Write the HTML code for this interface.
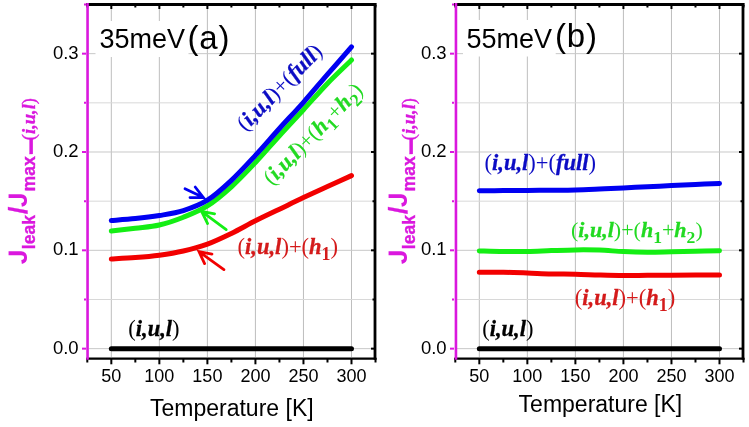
<!DOCTYPE html>
<html><head><meta charset="utf-8"><style>html,body{margin:0;padding:0;background:#fff;overflow:hidden}svg{display:block;filter:blur(0.35px)}</style></head>
<body><svg width="749" height="427" viewBox="0 0 749 427"><rect width="749" height="427" fill="#fff"/>
<line x1="111.32" y1="6" x2="111.32" y2="357" stroke="#BEBEBE" stroke-width="1"/>
<line x1="159.35" y1="6" x2="159.35" y2="357" stroke="#BEBEBE" stroke-width="1"/>
<line x1="207.39" y1="6" x2="207.39" y2="357" stroke="#BEBEBE" stroke-width="1"/>
<line x1="255.42" y1="6" x2="255.42" y2="357" stroke="#BEBEBE" stroke-width="1"/>
<line x1="303.46" y1="6" x2="303.46" y2="357" stroke="#BEBEBE" stroke-width="1"/>
<line x1="351.49" y1="6" x2="351.49" y2="357" stroke="#BEBEBE" stroke-width="1"/>
<line x1="89" y1="348.65" x2="374" y2="348.65" stroke="#C8C8C8" stroke-width="1"/>
<line x1="89" y1="299.49" x2="374" y2="299.49" stroke="#D8D8D8" stroke-width="1"/>
<line x1="89" y1="250.32" x2="374" y2="250.32" stroke="#C8C8C8" stroke-width="1"/>
<line x1="89" y1="201.16" x2="374" y2="201.16" stroke="#D8D8D8" stroke-width="1"/>
<line x1="89" y1="151.99" x2="374" y2="151.99" stroke="#C8C8C8" stroke-width="1"/>
<line x1="89" y1="102.83" x2="374" y2="102.83" stroke="#D8D8D8" stroke-width="1"/>
<line x1="89" y1="53.66" x2="374" y2="53.66" stroke="#C8C8C8" stroke-width="1"/>
<path d="M111.32,348.65 C115.32,348.65 127.33,348.65 135.33,348.65 C143.34,348.65 151.35,348.65 159.35,348.65 C167.36,348.65 175.36,348.65 183.37,348.65 C191.38,348.65 199.38,348.65 207.39,348.65 C215.39,348.65 223.40,348.65 231.40,348.65 C239.41,348.65 247.42,348.65 255.42,348.65 C263.43,348.65 271.43,348.65 279.44,348.65 C287.45,348.65 295.45,348.65 303.46,348.65 C311.46,348.65 319.47,348.65 327.48,348.65 C335.48,348.65 347.49,348.65 351.49,348.65" fill="none" stroke="#000" stroke-width="5" stroke-linecap="round" stroke-linejoin="round"/>
<path d="M111.32,259.00 C115.32,258.77 127.33,258.23 135.33,257.60 C143.34,256.97 151.35,256.30 159.35,255.20 C167.36,254.10 175.36,252.85 183.37,251.00 C191.38,249.15 199.38,247.03 207.39,244.10 C215.39,241.17 223.40,237.28 231.40,233.40 C239.41,229.52 247.42,224.83 255.42,220.80 C263.43,216.77 271.43,213.07 279.44,209.20 C287.45,205.33 295.45,201.38 303.46,197.60 C311.46,193.82 319.47,190.17 327.48,186.50 C335.48,182.83 347.49,177.42 351.49,175.60" fill="none" stroke="#F20000" stroke-width="5" stroke-linecap="round" stroke-linejoin="round"/>
<path d="M111.32,231.00 C115.32,230.53 127.33,229.20 135.33,228.20 C143.34,227.20 151.35,226.83 159.35,225.00 C167.36,223.17 175.36,220.38 183.37,217.20 C191.38,214.02 199.38,210.97 207.39,205.90 C215.39,200.83 223.40,194.03 231.40,186.80 C239.41,179.57 247.42,171.02 255.42,162.50 C263.43,153.98 271.43,144.50 279.44,135.70 C287.45,126.90 295.45,118.42 303.46,109.70 C311.46,100.98 319.47,91.68 327.48,83.40 C335.48,75.12 347.49,63.90 351.49,60.00" fill="none" stroke="#14EE14" stroke-width="5" stroke-linecap="round" stroke-linejoin="round"/>
<path d="M111.32,220.50 C115.32,220.18 127.33,219.43 135.33,218.60 C143.34,217.77 151.35,216.83 159.35,215.50 C167.36,214.17 175.36,213.15 183.37,210.60 C191.38,208.05 199.38,205.25 207.39,200.20 C215.39,195.15 223.40,187.77 231.40,180.30 C239.41,172.83 247.42,164.03 255.42,155.40 C263.43,146.77 271.43,137.35 279.44,128.50 C287.45,119.65 295.45,111.32 303.46,102.30 C311.46,93.28 319.47,83.63 327.48,74.40 C335.48,65.17 347.49,51.48 351.49,46.90" fill="none" stroke="#0000F2" stroke-width="5" stroke-linecap="round" stroke-linejoin="round"/>
<path d="M185,188.8 L203.4,197.6 M195.2,187 L203.4,197.6 L190,197.6" fill="none" stroke="#0000F2" stroke-width="2.8" stroke-linecap="round" stroke-linejoin="miter"/>
<path d="M226.2,229.6 L201.6,211.3 M214.6,213.8 L201.6,211.3 L207.6,223.6" fill="none" stroke="#14EE14" stroke-width="2.8" stroke-linecap="round" stroke-linejoin="miter"/>
<path d="M223.9,269.6 L199,251.7 M212,254.1 L199,251.7 L204.6,263.6" fill="none" stroke="#F20000" stroke-width="2.8" stroke-linecap="round" stroke-linejoin="miter"/>
<line x1="86" y1="4.5" x2="376.4" y2="4.5" stroke="#000" stroke-width="2.8"/>
<line x1="375.0" y1="3.1" x2="375.0" y2="359.8" stroke="#000" stroke-width="2.8"/>
<line x1="86.3" y1="358.6" x2="376.4" y2="358.6" stroke="#000" stroke-width="2.4"/>
<line x1="87.30" y1="358" x2="87.30" y2="362.5" stroke="#000" stroke-width="2"/>
<line x1="87.30" y1="5" x2="87.30" y2="7.5" stroke="#000" stroke-width="2"/>
<line x1="111.32" y1="358" x2="111.32" y2="364.3" stroke="#000" stroke-width="2"/>
<line x1="111.32" y1="5" x2="111.32" y2="9.0" stroke="#000" stroke-width="2"/>
<line x1="135.33" y1="358" x2="135.33" y2="362.5" stroke="#000" stroke-width="2"/>
<line x1="135.33" y1="5" x2="135.33" y2="7.5" stroke="#000" stroke-width="2"/>
<line x1="159.35" y1="358" x2="159.35" y2="364.3" stroke="#000" stroke-width="2"/>
<line x1="159.35" y1="5" x2="159.35" y2="9.0" stroke="#000" stroke-width="2"/>
<line x1="183.37" y1="358" x2="183.37" y2="362.5" stroke="#000" stroke-width="2"/>
<line x1="183.37" y1="5" x2="183.37" y2="7.5" stroke="#000" stroke-width="2"/>
<line x1="207.39" y1="358" x2="207.39" y2="364.3" stroke="#000" stroke-width="2"/>
<line x1="207.39" y1="5" x2="207.39" y2="9.0" stroke="#000" stroke-width="2"/>
<line x1="231.40" y1="358" x2="231.40" y2="362.5" stroke="#000" stroke-width="2"/>
<line x1="231.40" y1="5" x2="231.40" y2="7.5" stroke="#000" stroke-width="2"/>
<line x1="255.42" y1="358" x2="255.42" y2="364.3" stroke="#000" stroke-width="2"/>
<line x1="255.42" y1="5" x2="255.42" y2="9.0" stroke="#000" stroke-width="2"/>
<line x1="279.44" y1="358" x2="279.44" y2="362.5" stroke="#000" stroke-width="2"/>
<line x1="279.44" y1="5" x2="279.44" y2="7.5" stroke="#000" stroke-width="2"/>
<line x1="303.46" y1="358" x2="303.46" y2="364.3" stroke="#000" stroke-width="2"/>
<line x1="303.46" y1="5" x2="303.46" y2="9.0" stroke="#000" stroke-width="2"/>
<line x1="327.48" y1="358" x2="327.48" y2="362.5" stroke="#000" stroke-width="2"/>
<line x1="327.48" y1="5" x2="327.48" y2="7.5" stroke="#000" stroke-width="2"/>
<line x1="351.49" y1="358" x2="351.49" y2="364.3" stroke="#000" stroke-width="2"/>
<line x1="351.49" y1="5" x2="351.49" y2="9.0" stroke="#000" stroke-width="2"/>
<line x1="375.51" y1="358" x2="375.51" y2="362.5" stroke="#000" stroke-width="2"/>
<line x1="375.51" y1="5" x2="375.51" y2="7.5" stroke="#000" stroke-width="2"/>
<line x1="374" y1="348.65" x2="371.0" y2="348.65" stroke="#000" stroke-width="2"/>
<line x1="374" y1="299.49" x2="372.5" y2="299.49" stroke="#000" stroke-width="2"/>
<line x1="374" y1="250.32" x2="371.0" y2="250.32" stroke="#000" stroke-width="2"/>
<line x1="374" y1="201.16" x2="372.5" y2="201.16" stroke="#000" stroke-width="2"/>
<line x1="374" y1="151.99" x2="371.0" y2="151.99" stroke="#000" stroke-width="2"/>
<line x1="374" y1="102.83" x2="372.5" y2="102.83" stroke="#000" stroke-width="2"/>
<line x1="374" y1="53.66" x2="371.0" y2="53.66" stroke="#000" stroke-width="2"/>
<line x1="374" y1="4.50" x2="372.5" y2="4.50" stroke="#000" stroke-width="2"/>
<line x1="87.55" y1="3.1" x2="87.55" y2="359.8" stroke="#DA18DE" stroke-width="2.6"/>
<line x1="86" y1="348.65" x2="82.0" y2="348.65" stroke="#DA18DE" stroke-width="2"/>
<line x1="86" y1="299.49" x2="84.0" y2="299.49" stroke="#DA18DE" stroke-width="2"/>
<line x1="86" y1="250.32" x2="82.0" y2="250.32" stroke="#DA18DE" stroke-width="2"/>
<line x1="86" y1="201.16" x2="84.0" y2="201.16" stroke="#DA18DE" stroke-width="2"/>
<line x1="86" y1="151.99" x2="82.0" y2="151.99" stroke="#DA18DE" stroke-width="2"/>
<line x1="86" y1="102.83" x2="84.0" y2="102.83" stroke="#DA18DE" stroke-width="2"/>
<line x1="86" y1="53.66" x2="82.0" y2="53.66" stroke="#DA18DE" stroke-width="2"/>
<line x1="86" y1="4.50" x2="84.0" y2="4.50" stroke="#DA18DE" stroke-width="2"/>
<text x="111.32" y="382" font-family='"Liberation Sans", sans-serif' font-size="18" text-anchor="middle">50</text>
<text x="159.35" y="382" font-family='"Liberation Sans", sans-serif' font-size="18" text-anchor="middle">100</text>
<text x="207.39" y="382" font-family='"Liberation Sans", sans-serif' font-size="18" text-anchor="middle">150</text>
<text x="255.42" y="382" font-family='"Liberation Sans", sans-serif' font-size="18" text-anchor="middle">200</text>
<text x="303.46" y="382" font-family='"Liberation Sans", sans-serif' font-size="18" text-anchor="middle">250</text>
<text x="351.49" y="382" font-family='"Liberation Sans", sans-serif' font-size="18" text-anchor="middle">300</text>
<text x="78.6" y="353.75" font-family='"Liberation Sans", sans-serif' font-size="18.5" text-anchor="end">0.0</text>
<text x="78.6" y="255.42" font-family='"Liberation Sans", sans-serif' font-size="18.5" text-anchor="end">0.1</text>
<text x="78.6" y="157.09" font-family='"Liberation Sans", sans-serif' font-size="18.5" text-anchor="end">0.2</text>
<text x="78.6" y="58.76" font-family='"Liberation Sans", sans-serif' font-size="18.5" text-anchor="end">0.3</text>
<line x1="479.32" y1="6" x2="479.32" y2="357" stroke="#BEBEBE" stroke-width="1"/>
<line x1="527.35" y1="6" x2="527.35" y2="357" stroke="#BEBEBE" stroke-width="1"/>
<line x1="575.39" y1="6" x2="575.39" y2="357" stroke="#BEBEBE" stroke-width="1"/>
<line x1="623.42" y1="6" x2="623.42" y2="357" stroke="#BEBEBE" stroke-width="1"/>
<line x1="671.46" y1="6" x2="671.46" y2="357" stroke="#BEBEBE" stroke-width="1"/>
<line x1="719.49" y1="6" x2="719.49" y2="357" stroke="#BEBEBE" stroke-width="1"/>
<line x1="457" y1="348.65" x2="742" y2="348.65" stroke="#C8C8C8" stroke-width="1"/>
<line x1="457" y1="299.49" x2="742" y2="299.49" stroke="#D8D8D8" stroke-width="1"/>
<line x1="457" y1="250.32" x2="742" y2="250.32" stroke="#C8C8C8" stroke-width="1"/>
<line x1="457" y1="201.16" x2="742" y2="201.16" stroke="#D8D8D8" stroke-width="1"/>
<line x1="457" y1="151.99" x2="742" y2="151.99" stroke="#C8C8C8" stroke-width="1"/>
<line x1="457" y1="102.83" x2="742" y2="102.83" stroke="#D8D8D8" stroke-width="1"/>
<line x1="457" y1="53.66" x2="742" y2="53.66" stroke="#C8C8C8" stroke-width="1"/>
<path d="M479.32,348.65 C483.32,348.65 495.33,348.65 503.33,348.65 C511.34,348.65 519.35,348.65 527.35,348.65 C535.36,348.65 543.36,348.65 551.37,348.65 C559.38,348.65 567.38,348.65 575.39,348.65 C583.39,348.65 591.40,348.65 599.40,348.65 C607.41,348.65 615.42,348.65 623.42,348.65 C631.43,348.65 639.43,348.65 647.44,348.65 C655.45,348.65 663.45,348.65 671.46,348.65 C679.46,348.65 687.47,348.65 695.48,348.65 C703.48,348.65 715.49,348.65 719.49,348.65" fill="none" stroke="#000" stroke-width="5" stroke-linecap="round" stroke-linejoin="round"/>
<path d="M479.32,272.30 C483.32,272.30 495.33,272.18 503.33,272.30 C511.34,272.42 519.35,272.73 527.35,273.00 C535.36,273.27 543.36,273.70 551.37,273.90 C559.38,274.10 567.38,274.02 575.39,274.20 C583.39,274.38 591.40,274.78 599.40,275.00 C607.41,275.22 615.42,275.45 623.42,275.50 C631.43,275.55 639.43,275.35 647.44,275.30 C655.45,275.25 663.45,275.23 671.46,275.20 C679.46,275.17 687.47,275.12 695.48,275.10 C703.48,275.08 715.49,275.10 719.49,275.10" fill="none" stroke="#F20000" stroke-width="5" stroke-linecap="round" stroke-linejoin="round"/>
<path d="M479.32,250.90 C483.32,251.00 495.33,251.40 503.33,251.50 C511.34,251.60 519.35,251.65 527.35,251.50 C535.36,251.35 543.36,250.87 551.37,250.60 C559.38,250.33 567.38,249.98 575.39,249.90 C583.39,249.82 591.40,249.82 599.40,250.10 C607.41,250.38 615.42,251.25 623.42,251.60 C631.43,251.95 639.43,252.17 647.44,252.20 C655.45,252.23 663.45,251.95 671.46,251.80 C679.46,251.65 687.47,251.47 695.48,251.30 C703.48,251.13 715.49,250.88 719.49,250.80" fill="none" stroke="#14EE14" stroke-width="5" stroke-linecap="round" stroke-linejoin="round"/>
<path d="M479.32,190.70 C483.32,190.68 495.33,190.65 503.33,190.60 C511.34,190.55 519.35,190.47 527.35,190.40 C535.36,190.33 543.36,190.28 551.37,190.20 C559.38,190.12 567.38,190.10 575.39,189.90 C583.39,189.70 591.40,189.33 599.40,189.00 C607.41,188.67 615.42,188.27 623.42,187.90 C631.43,187.53 639.43,187.18 647.44,186.80 C655.45,186.42 663.45,185.98 671.46,185.60 C679.46,185.22 687.47,184.87 695.48,184.50 C703.48,184.13 715.49,183.58 719.49,183.40" fill="none" stroke="#0000F2" stroke-width="5" stroke-linecap="round" stroke-linejoin="round"/>
<line x1="454" y1="4.5" x2="744.4" y2="4.5" stroke="#000" stroke-width="2.8"/>
<line x1="743.0" y1="3.1" x2="743.0" y2="359.8" stroke="#000" stroke-width="2.8"/>
<line x1="454.3" y1="358.6" x2="744.4" y2="358.6" stroke="#000" stroke-width="2.4"/>
<line x1="455.30" y1="358" x2="455.30" y2="362.5" stroke="#000" stroke-width="2"/>
<line x1="455.30" y1="5" x2="455.30" y2="7.5" stroke="#000" stroke-width="2"/>
<line x1="479.32" y1="358" x2="479.32" y2="364.3" stroke="#000" stroke-width="2"/>
<line x1="479.32" y1="5" x2="479.32" y2="9.0" stroke="#000" stroke-width="2"/>
<line x1="503.33" y1="358" x2="503.33" y2="362.5" stroke="#000" stroke-width="2"/>
<line x1="503.33" y1="5" x2="503.33" y2="7.5" stroke="#000" stroke-width="2"/>
<line x1="527.35" y1="358" x2="527.35" y2="364.3" stroke="#000" stroke-width="2"/>
<line x1="527.35" y1="5" x2="527.35" y2="9.0" stroke="#000" stroke-width="2"/>
<line x1="551.37" y1="358" x2="551.37" y2="362.5" stroke="#000" stroke-width="2"/>
<line x1="551.37" y1="5" x2="551.37" y2="7.5" stroke="#000" stroke-width="2"/>
<line x1="575.39" y1="358" x2="575.39" y2="364.3" stroke="#000" stroke-width="2"/>
<line x1="575.39" y1="5" x2="575.39" y2="9.0" stroke="#000" stroke-width="2"/>
<line x1="599.40" y1="358" x2="599.40" y2="362.5" stroke="#000" stroke-width="2"/>
<line x1="599.40" y1="5" x2="599.40" y2="7.5" stroke="#000" stroke-width="2"/>
<line x1="623.42" y1="358" x2="623.42" y2="364.3" stroke="#000" stroke-width="2"/>
<line x1="623.42" y1="5" x2="623.42" y2="9.0" stroke="#000" stroke-width="2"/>
<line x1="647.44" y1="358" x2="647.44" y2="362.5" stroke="#000" stroke-width="2"/>
<line x1="647.44" y1="5" x2="647.44" y2="7.5" stroke="#000" stroke-width="2"/>
<line x1="671.46" y1="358" x2="671.46" y2="364.3" stroke="#000" stroke-width="2"/>
<line x1="671.46" y1="5" x2="671.46" y2="9.0" stroke="#000" stroke-width="2"/>
<line x1="695.48" y1="358" x2="695.48" y2="362.5" stroke="#000" stroke-width="2"/>
<line x1="695.48" y1="5" x2="695.48" y2="7.5" stroke="#000" stroke-width="2"/>
<line x1="719.49" y1="358" x2="719.49" y2="364.3" stroke="#000" stroke-width="2"/>
<line x1="719.49" y1="5" x2="719.49" y2="9.0" stroke="#000" stroke-width="2"/>
<line x1="743.51" y1="358" x2="743.51" y2="362.5" stroke="#000" stroke-width="2"/>
<line x1="743.51" y1="5" x2="743.51" y2="7.5" stroke="#000" stroke-width="2"/>
<line x1="742" y1="348.65" x2="739.0" y2="348.65" stroke="#000" stroke-width="2"/>
<line x1="742" y1="299.49" x2="740.5" y2="299.49" stroke="#000" stroke-width="2"/>
<line x1="742" y1="250.32" x2="739.0" y2="250.32" stroke="#000" stroke-width="2"/>
<line x1="742" y1="201.16" x2="740.5" y2="201.16" stroke="#000" stroke-width="2"/>
<line x1="742" y1="151.99" x2="739.0" y2="151.99" stroke="#000" stroke-width="2"/>
<line x1="742" y1="102.83" x2="740.5" y2="102.83" stroke="#000" stroke-width="2"/>
<line x1="742" y1="53.66" x2="739.0" y2="53.66" stroke="#000" stroke-width="2"/>
<line x1="742" y1="4.50" x2="740.5" y2="4.50" stroke="#000" stroke-width="2"/>
<line x1="455.95" y1="3.1" x2="455.95" y2="359.8" stroke="#DA18DE" stroke-width="2.6"/>
<line x1="454" y1="348.65" x2="450.0" y2="348.65" stroke="#DA18DE" stroke-width="2"/>
<line x1="454" y1="299.49" x2="452.0" y2="299.49" stroke="#DA18DE" stroke-width="2"/>
<line x1="454" y1="250.32" x2="450.0" y2="250.32" stroke="#DA18DE" stroke-width="2"/>
<line x1="454" y1="201.16" x2="452.0" y2="201.16" stroke="#DA18DE" stroke-width="2"/>
<line x1="454" y1="151.99" x2="450.0" y2="151.99" stroke="#DA18DE" stroke-width="2"/>
<line x1="454" y1="102.83" x2="452.0" y2="102.83" stroke="#DA18DE" stroke-width="2"/>
<line x1="454" y1="53.66" x2="450.0" y2="53.66" stroke="#DA18DE" stroke-width="2"/>
<line x1="454" y1="4.50" x2="452.0" y2="4.50" stroke="#DA18DE" stroke-width="2"/>
<text x="479.32" y="382" font-family='"Liberation Sans", sans-serif' font-size="18" text-anchor="middle">50</text>
<text x="527.35" y="382" font-family='"Liberation Sans", sans-serif' font-size="18" text-anchor="middle">100</text>
<text x="575.39" y="382" font-family='"Liberation Sans", sans-serif' font-size="18" text-anchor="middle">150</text>
<text x="623.42" y="382" font-family='"Liberation Sans", sans-serif' font-size="18" text-anchor="middle">200</text>
<text x="671.46" y="382" font-family='"Liberation Sans", sans-serif' font-size="18" text-anchor="middle">250</text>
<text x="719.49" y="382" font-family='"Liberation Sans", sans-serif' font-size="18" text-anchor="middle">300</text>
<text x="446.6" y="353.75" font-family='"Liberation Sans", sans-serif' font-size="18.5" text-anchor="end">0.0</text>
<text x="446.6" y="255.42" font-family='"Liberation Sans", sans-serif' font-size="18.5" text-anchor="end">0.1</text>
<text x="446.6" y="157.09" font-family='"Liberation Sans", sans-serif' font-size="18.5" text-anchor="end">0.2</text>
<text x="446.6" y="58.76" font-family='"Liberation Sans", sans-serif' font-size="18.5" text-anchor="end">0.3</text>
<g fill="#DA18DE" font-weight="bold" stroke="#DA18DE" stroke-width="0.35"><path transform="translate(26.80,264.30) rotate(-90) scale(0.012939,-0.012939)" d="M524 -20Q305 -20 187.5 75.0Q70 170 31 382L324 425Q342 316 391.0 263.5Q440 211 526 211Q614 211 659.5 270.0Q705 329 705 439V1409H999V446Q999 226 874.0 103.0Q749 -20 524 -20Z"/><text transform="translate(34.70,249.20) rotate(-90)" font-family='"Liberation Sans", sans-serif' font-size="17.6" font-weight="bold">leak</text><text transform="translate(26.80,214.00) rotate(-90)" font-family='"Liberation Sans", sans-serif' font-size="26.5" font-weight="bold">/</text><path transform="translate(26.80,207.20) rotate(-90) scale(0.012939,-0.012939)" d="M524 -20Q305 -20 187.5 75.0Q70 170 31 382L324 425Q342 316 391.0 263.5Q440 211 526 211Q614 211 659.5 270.0Q705 329 705 439V1409H999V446Q999 226 874.0 103.0Q749 -20 524 -20Z"/><text transform="translate(34.70,191.40) rotate(-90)" font-family='"Liberation Sans", sans-serif' font-size="17.6" font-weight="bold">max</text><text transform="translate(34.70,140.20) rotate(-90)" font-family='"Liberation Serif", serif' font-size="18.5" font-weight="normal">(</text><text transform="translate(34.70,134.00) rotate(-90)" font-family='"Liberation Serif", serif' font-size="18.5" font-weight="bold" font-style="italic">i,u,l</text><text transform="translate(34.70,104.20) rotate(-90)" font-family='"Liberation Serif", serif' font-size="18.5" font-weight="normal">)</text><rect x="29.60" y="139" width="3.2" height="15" /></g>
<g fill="#DA18DE" font-weight="bold" stroke="#DA18DE" stroke-width="0.35"><path transform="translate(406.80,264.30) rotate(-90) scale(0.012939,-0.012939)" d="M524 -20Q305 -20 187.5 75.0Q70 170 31 382L324 425Q342 316 391.0 263.5Q440 211 526 211Q614 211 659.5 270.0Q705 329 705 439V1409H999V446Q999 226 874.0 103.0Q749 -20 524 -20Z"/><text transform="translate(414.70,249.20) rotate(-90)" font-family='"Liberation Sans", sans-serif' font-size="17.6" font-weight="bold">leak</text><text transform="translate(406.80,214.00) rotate(-90)" font-family='"Liberation Sans", sans-serif' font-size="26.5" font-weight="bold">/</text><path transform="translate(406.80,207.20) rotate(-90) scale(0.012939,-0.012939)" d="M524 -20Q305 -20 187.5 75.0Q70 170 31 382L324 425Q342 316 391.0 263.5Q440 211 526 211Q614 211 659.5 270.0Q705 329 705 439V1409H999V446Q999 226 874.0 103.0Q749 -20 524 -20Z"/><text transform="translate(414.70,191.40) rotate(-90)" font-family='"Liberation Sans", sans-serif' font-size="17.6" font-weight="bold">max</text><text transform="translate(414.70,140.20) rotate(-90)" font-family='"Liberation Serif", serif' font-size="18.5" font-weight="normal">(</text><text transform="translate(414.70,134.00) rotate(-90)" font-family='"Liberation Serif", serif' font-size="18.5" font-weight="bold" font-style="italic">i,u,l</text><text transform="translate(414.70,104.20) rotate(-90)" font-family='"Liberation Serif", serif' font-size="18.5" font-weight="normal">)</text><rect x="409.60" y="139" width="3.2" height="15" /></g>
<rect x="95.5" y="21" width="93" height="36" fill="#fff"/>
<rect x="463" y="20" width="92.7" height="36.5" fill="#fff"/>
<text x="99.5" y="48" font-family='"Liberation Sans", sans-serif' font-size="27">35meV</text>
<text x="187.5" y="49.2" font-family='"Liberation Sans", sans-serif' font-size="33" letter-spacing="0.8">(a)</text>
<text x="466.4" y="48" font-family='"Liberation Sans", sans-serif' font-size="27">55meV</text>
<text x="555" y="46.9" font-family='"Liberation Sans", sans-serif' font-size="33" letter-spacing="0.8">(b)</text>
<text x="150" y="415.6" font-family='"Liberation Sans", sans-serif' font-size="23">Temperature [K]</text>
<text x="518.6" y="412.4" font-family='"Liberation Sans", sans-serif' font-size="23">Temperature [K]</text>
<text x="128.3" y="335.8" font-family='"Liberation Serif", serif' font-size="22.5" fill="#000"><tspan>(</tspan><tspan font-weight="bold" font-style="italic" stroke="#000" stroke-width="0.3">i,u,l</tspan><tspan>)</tspan></text>
<text x="237.6" y="253.7" font-family='"Liberation Serif", serif' font-size="22.5" fill="#D41A1A"><tspan>(</tspan><tspan font-weight="bold" font-style="italic" stroke="#D41A1A" stroke-width="0.3">i,u,l</tspan><tspan>)</tspan><tspan>+</tspan><tspan>(</tspan><tspan font-weight="bold" font-style="italic" stroke="#D41A1A" stroke-width="0.3">h</tspan><tspan font-weight="bold" font-size="18.0" dy="6">1</tspan><tspan dy="-6">)</tspan></text>
<text transform="translate(245.4,132.1) rotate(-45.5)" font-family='"Liberation Serif", serif' font-size="22.5" fill="#0C0CC4"><tspan>(</tspan><tspan font-weight="bold" font-style="italic" stroke="#0C0CC4" stroke-width="0.3">i,u,l</tspan><tspan>)</tspan><tspan>+</tspan><tspan>(</tspan><tspan font-weight="bold" font-style="italic" stroke="#0C0CC4" stroke-width="0.3">full</tspan><tspan>)</tspan></text>
<text transform="translate(271.9,185.9) rotate(-45.7)" font-family='"Liberation Serif", serif' font-size="22" fill="#22DA22"><tspan>(</tspan><tspan font-weight="bold" font-style="italic" stroke="#22DA22" stroke-width="0.3">i,u,l</tspan><tspan>)</tspan><tspan>+</tspan><tspan>(</tspan><tspan font-weight="bold" font-style="italic" stroke="#22DA22" stroke-width="0.3">h</tspan><tspan font-weight="bold" font-size="17.6" dy="6">1</tspan><tspan dy="-6">+</tspan><tspan font-weight="bold" font-style="italic" stroke="#22DA22" stroke-width="0.3">h</tspan><tspan font-weight="bold" font-size="17.6" dy="6">2</tspan><tspan dy="-6">)</tspan></text>
<text x="482.2" y="335.6" font-family='"Liberation Serif", serif' font-size="22.5" fill="#000"><tspan>(</tspan><tspan font-weight="bold" font-style="italic" stroke="#000" stroke-width="0.3">i,u,l</tspan><tspan>)</tspan></text>
<text x="574.8" y="305.4" font-family='"Liberation Serif", serif' font-size="22.5" fill="#D41A1A"><tspan>(</tspan><tspan font-weight="bold" font-style="italic" stroke="#D41A1A" stroke-width="0.3">i,u,l</tspan><tspan>)</tspan><tspan>+</tspan><tspan>(</tspan><tspan font-weight="bold" font-style="italic" stroke="#D41A1A" stroke-width="0.3">h</tspan><tspan font-weight="bold" font-size="18.0" dy="6">1</tspan><tspan dy="-6">)</tspan></text>
<text x="484.5" y="170.2" font-family='"Liberation Serif", serif' font-size="22.5" fill="#0C0CC4"><tspan>(</tspan><tspan font-weight="bold" font-style="italic" stroke="#0C0CC4" stroke-width="0.3">i,u,l</tspan><tspan>)</tspan><tspan>+</tspan><tspan>(</tspan><tspan font-weight="bold" font-style="italic" stroke="#0C0CC4" stroke-width="0.3">full</tspan><tspan>)</tspan></text>
<text x="571" y="237.2" font-family='"Liberation Serif", serif' font-size="22" fill="#22DA22"><tspan>(</tspan><tspan font-weight="bold" font-style="italic" stroke="#22DA22" stroke-width="0.3">i,u,l</tspan><tspan>)</tspan><tspan>+</tspan><tspan>(</tspan><tspan font-weight="bold" font-style="italic" stroke="#22DA22" stroke-width="0.3">h</tspan><tspan font-weight="bold" font-size="17.6" dy="6">1</tspan><tspan dy="-6">+</tspan><tspan font-weight="bold" font-style="italic" stroke="#22DA22" stroke-width="0.3">h</tspan><tspan font-weight="bold" font-size="17.6" dy="6">2</tspan><tspan dy="-6">)</tspan></text></svg></body></html>
